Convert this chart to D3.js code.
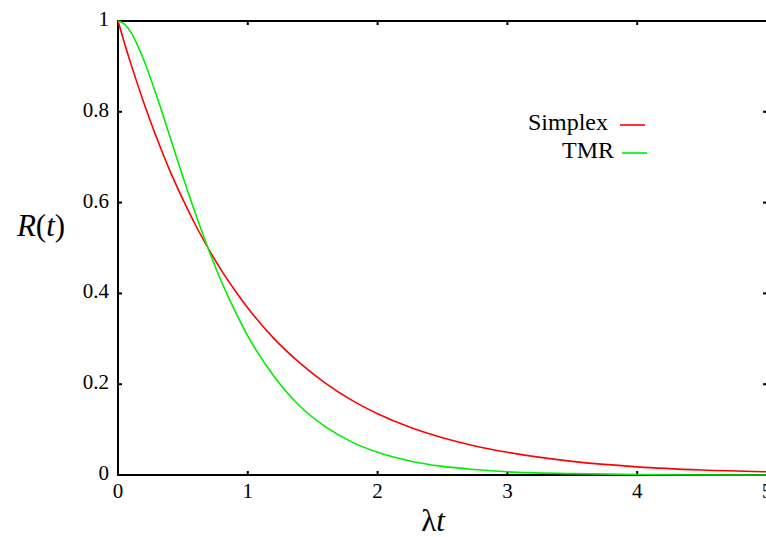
<!DOCTYPE html>
<html lang="en">
<head>
<meta charset="UTF-8">
<title>Reliability: Simplex vs TMR</title>
<script src="https://d3js.org/d3.v7.min.js"></script>
<style>
    body { margin: 0; background: #fff; }
    svg { display: block; }
</style>
</head>
<body>
<svg id="plot" width="766" height="537" font-family="'Liberation Serif', 'DejaVu Serif', serif"></svg>
<script>
// values
const lambdaT = [0, 0.05, 0.1, 0.2, 0.3, 0.4, 0.5, 0.6, 0.7, 0.8, 0.9, 1.0,
                 1.2, 1.4, 1.6, 1.8, 2.0, 2.25, 2.5, 2.75, 3.0, 3.5, 4.0, 4.5, 5.0];
const simplex = [1, 0.951, 0.905, 0.819, 0.741, 0.670, 0.607, 0.549, 0.497, 0.449, 0.407, 0.368,
                 0.301, 0.247, 0.202, 0.165, 0.135, 0.105, 0.082, 0.064, 0.050, 0.030, 0.018, 0.011, 0.007];
const tmr     = [1, 0.993, 0.975, 0.913, 0.833, 0.745, 0.657, 0.573, 0.495, 0.424, 0.362, 0.306,
                 0.218, 0.152, 0.106, 0.073, 0.050, 0.031, 0.019, 0.012, 0.007, 0.003, 0.001, 0.000, 0.000];
const xTicks = [0, 1, 2, 3, 4, 5];
const yTicks = [0, 0.2, 0.4, 0.6, 0.8, 1];
const seriesNames = ["Simplex", "TMR"];
const seriesColors = ["#ff0000", "#00ee00"];

const svg = d3.select("#plot");
const plotLeft = 118, plotRight = 767, plotTop = 21, plotBottom = 475;

const x = d3.scaleLinear().domain([0, 5]).range([plotLeft, plotRight]);
const y = d3.scaleLinear().domain([0, 1]).range([plotBottom, plotTop]);

// frame
svg.append("rect")
    .attr("x", plotLeft).attr("y", plotTop)
    .attr("width", plotRight - plotLeft).attr("height", plotBottom - plotTop)
    .attr("fill", "none").attr("stroke", "#000").attr("stroke-width", 2);

// inward ticks
const tickLen = 4;
xTicks.forEach(t => {
    svg.append("line").attr("x1", x(t)).attr("x2", x(t))
        .attr("y1", plotBottom).attr("y2", plotBottom - tickLen)
        .attr("stroke", "#000").attr("stroke-width", 2);
    svg.append("line").attr("x1", x(t)).attr("x2", x(t))
        .attr("y1", plotTop).attr("y2", plotTop + tickLen)
        .attr("stroke", "#000").attr("stroke-width", 2);
    svg.append("text").attr("x", x(t)).attr("y", plotBottom + 23)
        .attr("text-anchor", "middle").attr("font-size", 21)
        .text(d3.format("d")(t));
});
yTicks.forEach(t => {
    svg.append("line").attr("x1", plotLeft).attr("x2", plotLeft + tickLen)
        .attr("y1", y(t)).attr("y2", y(t))
        .attr("stroke", "#000").attr("stroke-width", 2);
    svg.append("line").attr("x1", plotRight).attr("x2", plotRight - tickLen)
        .attr("y1", y(t)).attr("y2", y(t))
        .attr("stroke", "#000").attr("stroke-width", 2);
    svg.append("text").attr("x", plotLeft - 9).attr("y", y(t) + 5)
        .attr("text-anchor", "end").attr("font-size", 21)
        .text(t === 0 || t === 1 ? String(t) : t.toFixed(1));
});

// axis titles
const yl = svg.append("text").attr("x", 41).attr("y", 236)
    .attr("text-anchor", "middle").attr("font-size", 31);
yl.append("tspan").attr("font-style", "italic").text("R");
yl.append("tspan").text("(");
yl.append("tspan").attr("font-style", "italic").text("t");
yl.append("tspan").text(")");

const xl = svg.append("text").attr("x", 433).attr("y", 531)
    .attr("text-anchor", "middle").attr("font-size", 31);
xl.append("tspan").text("λ");
xl.append("tspan").attr("font-style", "italic").text("t");

// curves
const line = d3.line().x(d => x(d[0])).y(d => y(d[1])).curve(d3.curveMonotoneX);
[simplex, tmr].forEach((vals, i) => {
    svg.append("path")
        .datum(lambdaT.map((t, j) => [t, vals[j]]))
        .attr("d", line)
        .attr("fill", "none")
        .attr("stroke", seriesColors[i])
        .attr("stroke-width", 1.6);
});

// legend
const legendY = [125, 153];
seriesNames.forEach((name, i) => {
    svg.append("text").attr("x", i === 0 ? 608 : 614).attr("y", legendY[i] + 5)
        .attr("text-anchor", "end").attr("font-size", 24).text(name);
    svg.append("line")
        .attr("x1", i === 0 ? 620 : 622).attr("x2", i === 0 ? 645 : 647)
        .attr("y1", legendY[i]).attr("y2", legendY[i])
        .attr("stroke", seriesColors[i]).attr("stroke-width", 1.6);
});
</script>
</body>
</html>
